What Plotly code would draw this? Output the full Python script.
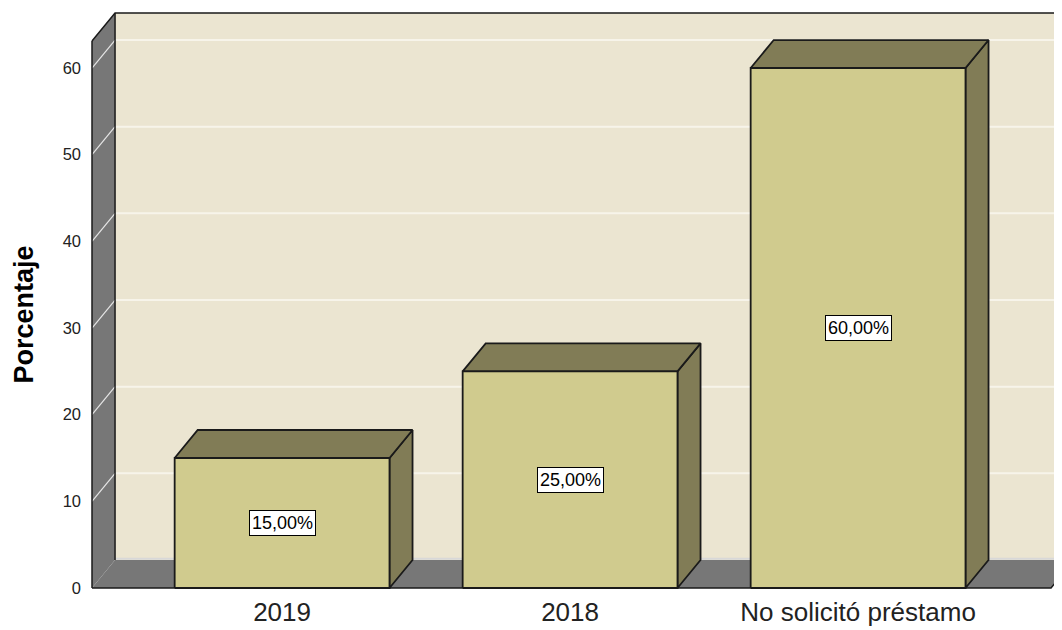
import plotly.graph_objects as go

categories = ["2019", "2018", "No solicitó préstamo"]
values = [15, 25, 60]
labels = ["15,00%", "25,00%", "60,00%"]
y_ticks = [0, 10, 20, 30, 40, 50, 60]

# geometry (data units)
BAR_W = 0.746
DX = 0.080      # depth offset in x
DY = 3.23       # depth offset in y
X_MIN = -0.66
X_FRONT_RIGHT = 2.67
X_MAX = X_FRONT_RIGHT + DX
Y_TOP = 66.35
X_RANGE = [X_MIN - 2 / 288, X_MIN - 2 / 288 + 980 / 288]
Y_RANGE = [-0.23, 66.58]

WALL = "#EBE5D1"
GRAY = "#777777"
FRONT = "#D0CB8E"
SIDE = "#817C56"
EDGE = "#1a1a1a"
FONT = "Arial, Liberation Sans, sans-serif"

fig = go.Figure()

def poly(xs, ys, fill, line_color=None, width=0):
    fig.add_trace(go.Scatter(
        x=xs + [xs[0]], y=ys + [ys[0]], mode="lines", fill="toself",
        fillcolor=fill, line=dict(color=line_color or fill, width=width),
        hoverinfo="skip", showlegend=False))

def line(xs, ys, color, width):
    fig.add_trace(go.Scatter(x=xs, y=ys, mode="lines",
                             line=dict(color=color, width=width),
                             hoverinfo="skip", showlegend=False))

# back wall
poly([X_MIN + DX, X_MAX + 1, X_MAX + 1, X_MIN + DX], [DY, DY, Y_TOP, Y_TOP], WALL)
# left wall
poly([X_MIN, X_MIN + DX, X_MIN + DX, X_MIN], [0, DY, Y_TOP, Y_TOP - DY], GRAY)
# floor
poly([X_MIN, X_FRONT_RIGHT, X_MAX, X_MIN + DX], [0, 0, DY, DY], GRAY)

# gridlines on back wall and left wall
for v in y_ticks[1:]:
    line([X_MIN + DX, X_MAX + 1], [v + DY, v + DY], "#F7F4EA", 2)
    line([X_MIN, X_MIN + DX], [v, v + DY], "#E6E6E6", 1.2)
line([X_MIN + DX, X_MAX + 1], [DY + 0.15, DY + 0.15], "#D8D8D8", 2)

# wall edges
line([X_MIN, X_MIN], [0, Y_TOP - DY], EDGE, 1.5)
line([X_MIN + DX, X_MIN + DX], [DY, Y_TOP], EDGE, 1.5)
line([X_MIN, X_MIN + DX, X_MAX + 1], [Y_TOP - DY, Y_TOP, Y_TOP], EDGE, 1.5)
line([X_MIN, X_FRONT_RIGHT, X_MAX], [0, 0, DY], EDGE, 1.5)

# bars
for i, v in enumerate(values):
    x0 = i - BAR_W / 2
    x1 = i + BAR_W / 2
    poly([x1, x1 + DX, x1 + DX, x1], [0, DY, v + DY, v], SIDE, EDGE, 1.8)
    poly([x0, x1, x1 + DX, x0 + DX], [v, v, v + DY, v + DY], SIDE, EDGE, 1.8)
    poly([x0, x1, x1, x0], [0, 0, v, v], FRONT, EDGE, 1.8)
    fig.add_annotation(x=i, y=v / 2, text=labels[i], showarrow=False,
                       font=dict(family=FONT, size=18, color="black"),
                       bgcolor="white", bordercolor="black", borderwidth=1,
                       borderpad=2)

fig.add_annotation(x=-0.0673, y=0.476, xref="paper", yref="paper",
                   xanchor="center", yanchor="middle",
                   text="<b>Porcentaje</b>", textangle=-90, showarrow=False,
                   font=dict(family=FONT, size=27, color="black"))

fig.update_layout(
    width=1062, height=630,
    margin=dict(l=82, r=0, t=3, b=48),
    paper_bgcolor="white", plot_bgcolor="white",
    showlegend=False,
    xaxis=dict(range=X_RANGE, showgrid=False, zeroline=False,
               tickmode="array", tickvals=[0, 1, 2], ticktext=categories,
               ticks="", showline=False, ticklabelstandoff=4,
               tickfont=dict(family=FONT, size=26, color="#222222")),
    yaxis=dict(range=Y_RANGE, showgrid=False, zeroline=False,
               tickmode="array", tickvals=y_ticks,
               ticktext=[str(t) for t in y_ticks], ticks="",
               ticklabelstandoff=8, showline=False,
               tickfont=dict(family=FONT, size=16.5, color="#222222")),
)

fig.write_html("out.html")
